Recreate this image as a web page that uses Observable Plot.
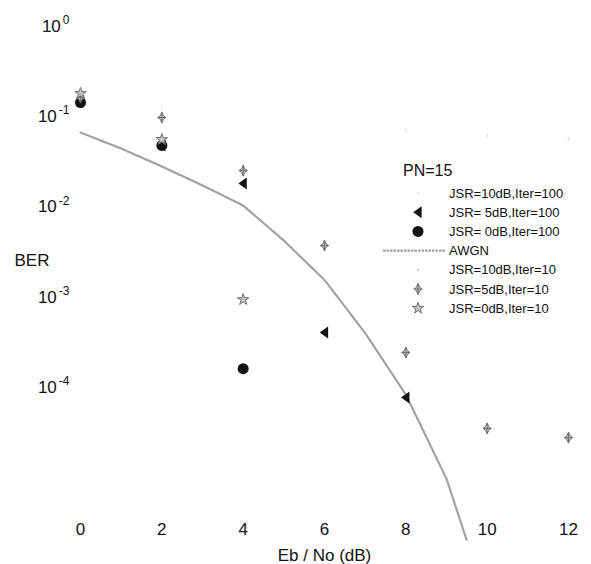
<!DOCTYPE html>
<html><head><meta charset="utf-8">
<script src="https://cdn.jsdelivr.net/npm/d3@7"></script>
<script src="https://cdn.jsdelivr.net/npm/@observablehq/plot@0.6"></script>
<style>
body{margin:0;background:#fff;}
#chart{width:591px;height:564px;}
</style></head><body><div id="chart"></div>
<script>
// ---- data ----
const xTicks = [0, 2, 4, 6, 8, 10, 12];
const yTicks = [1, 0.1, 0.01, 1e-3, 1e-4];
const yDomain = [3.7e-6, 1];

const awgnX   = [0, 1, 2, 3, 4, 5, 6, 7, 8, 9, 9.5];
const awgnBER = [0.0668, 0.0444, 0.0281, 0.0173, 0.01036, 0.00424, 0.00155, 4.0e-4, 8.3e-5, 9.7e-6, 2.0e-6];

const jsr10it100X = [2, 8, 10, 12];
const jsr10it100  = [0.12, 0.068, 0.06, 0.055];
const jsr5it100X  = [0, 2, 4, 6, 8];
const jsr5it100   = [0.15, 0.048, 0.0182, 4.05e-4, 7.7e-5];
const jsr0it100X  = [0, 2, 4];
const jsr0it100   = [0.1436, 0.048, 1.61e-4];
const jsr10it10X  = [2, 8, 10, 12];
const jsr10it10   = [0.13, 0.072, 0.063, 0.058];
const jsr5it10X   = [0, 2, 4, 6, 8, 10, 12];
const jsr5it10    = [0.163, 0.098, 0.0253, 0.00373, 2.43e-4, 3.5e-5, 2.77e-5];
const jsr0it10X   = [0, 2, 4];
const jsr0it10    = [0.181, 0.0559, 9.4e-4];

const legendTitle  = "PN=15";
const legendLabels = ["JSR=10dB,Iter=100", "JSR= 5dB,Iter=100", "JSR= 0dB,Iter=100", "AWGN",
                      "JSR=10dB,Iter=10", "JSR=5dB,Iter=10", "JSR=0dB,Iter=10"];
const xLabel = "Eb / No (dB)";
const yLabel = "BER";

// ---- helpers ----
const rows = (xs, ys) => xs.map((x, i) => ({x, y: ys[i]}));
const leftTriangle = {draw(ctx, size) {
  const r = Math.sqrt(size / Math.PI);
  ctx.moveTo(-r * 0.8, 0); ctx.lineTo(r * 0.6, -r); ctx.lineTo(r * 0.6, r); ctx.closePath();
}};
const diamondStar = {draw(ctx, size) {
  const r = Math.sqrt(size / Math.PI);
  const w = 0.75, k = 0.3;
  ctx.moveTo(0, -r); ctx.lineTo(r * k, -r * k); ctx.lineTo(r * w, 0); ctx.lineTo(r * k, r * k);
  ctx.lineTo(0, r); ctx.lineTo(-r * k, r * k); ctx.lineTo(-r * w, 0); ctx.lineTo(-r * k, -r * k); ctx.closePath();
  ctx.moveTo(0, -r); ctx.lineTo(0, r); ctx.moveTo(-r * w, 0); ctx.lineTo(r * w, 0);
}};
const star5 = d3.symbolStar;

const GRAY_STROKE = "#707070", GRAY_FILL = "#c4c4c4", BLACK = "#111";
const faint = "#d8d8d8";
const lineStyle = {stroke: "#a2a2a2", strokeWidth: 2.2, strokeDasharray: "2.5,1"};

const font = "'Liberation Sans', Arial, Helvetica, sans-serif";

const plot = Plot.plot({
  width: 591, height: 564,
  marginLeft: 80, marginRight: 23, marginTop: 26, marginBottom: 48,
  style: {fontFamily: font, fontSize: "17px", color: "#111", background: "#fff"},
  x: {domain: [0, 12], ticks: xTicks, tickSize: 0, tickPadding: 6,
      label: xLabel, labelAnchor: "center", labelOffset: 44, labelArrow: "none"},
  y: {type: "log", domain: yDomain, ticks: yTicks, tickSize: 0, tickPadding: 11,
      tickFormat: d => "10^" + Math.round(Math.log10(d)), label: null},
  marks: [
    Plot.line(rows(awgnX, awgnBER), {x: "x", y: "y", ...lineStyle}),
    Plot.dot(rows(jsr10it100X, jsr10it100), {x: "x", y: "y", r: 0.8, fill: faint, stroke: "none"}),
    Plot.dot(rows(jsr10it10X, jsr10it10), {x: "x", y: "y", r: 0.9, fill: faint, stroke: "none"}),
    Plot.dot(rows(jsr5it100X, jsr5it100), {x: "x", y: "y", r: 6, symbol: leftTriangle, fill: BLACK, stroke: "none"}),
    Plot.dot(rows(jsr0it100X, jsr0it100), {x: "x", y: "y", r: 5.5, symbol: "circle", fill: BLACK, stroke: "none"}),
    Plot.dot(rows(jsr5it10X, jsr5it10), {x: "x", y: "y", r: 5.5, symbol: diamondStar, fill: GRAY_FILL, stroke: GRAY_STROKE, strokeWidth: 1}),
    Plot.dot(rows(jsr0it10X, jsr0it10), {x: "x", y: "y", r: 3.6, symbol: star5, fill: GRAY_FILL, stroke: GRAY_STROKE, strokeWidth: 1}),
    Plot.text([yLabel], {frameAnchor: "left", dx: -66, dy: -11, textAnchor: "start", fontSize: 17, fill: "#111"})
  ]
});

// superscript exponents on the y tick labels
d3.select(plot).selectAll('g[aria-label="y-axis tick label"] text').each(function() {
  const t = d3.select(this);
  const s = t.text();
  const exp = s.split("^")[1];
  t.text(null);
  t.append("tspan").text("10");
  t.append("tspan").attr("dy", "-0.65em").attr("dx", "2").attr("font-size", "12px").text(exp);
});

// legend drawn inside the plot area
const lg = d3.select(plot).append("g").attr("font-family", font).attr("fill", "#111").attr("text-anchor", "start");
lg.append("text").attr("x", 403).attr("y", 170).attr("dy", "0.35em").attr("font-size", "16px").text(legendTitle);
const legendSym = [
  {type: "dot", sym: d3.symbolCircle, r: 0.9, fill: faint, stroke: "none"},
  {type: "dot", sym: leftTriangle, r: 6, fill: BLACK, stroke: "none"},
  {type: "dot", sym: d3.symbolCircle, r: 5.5, fill: BLACK, stroke: "none"},
  {type: "line"},
  {type: "dot", sym: d3.symbolCircle, r: 1.1, fill: "#bbb", stroke: "none"},
  {type: "dot", sym: diamondStar, r: 5.5, fill: GRAY_FILL, stroke: GRAY_STROKE},
  {type: "dot", sym: star5, r: 3.6, fill: GRAY_FILL, stroke: GRAY_STROKE}
];
legendLabels.forEach((lab, i) => {
  const y = 193 + i * 19.2;
  const s = legendSym[i];
  if (s.type === "line") {
    lg.append("line").attr("x1", 383).attr("x2", 446).attr("y1", y).attr("y2", y)
      .attr("stroke", lineStyle.stroke).attr("stroke-width", lineStyle.strokeWidth)
      .attr("stroke-dasharray", lineStyle.strokeDasharray);
  } else {
    lg.append("path").attr("transform", `translate(418,${y})`)
      .attr("d", d3.symbol(s.sym, s.r * s.r * Math.PI)())
      .attr("fill", s.fill).attr("stroke", s.stroke).attr("stroke-width", 1);
  }
  lg.append("text").attr("x", 449).attr("y", y).attr("dy", "0.35em").attr("font-size", "13px").text(lab);
});

document.getElementById("chart").appendChild(plot);
</script>
</body></html>
